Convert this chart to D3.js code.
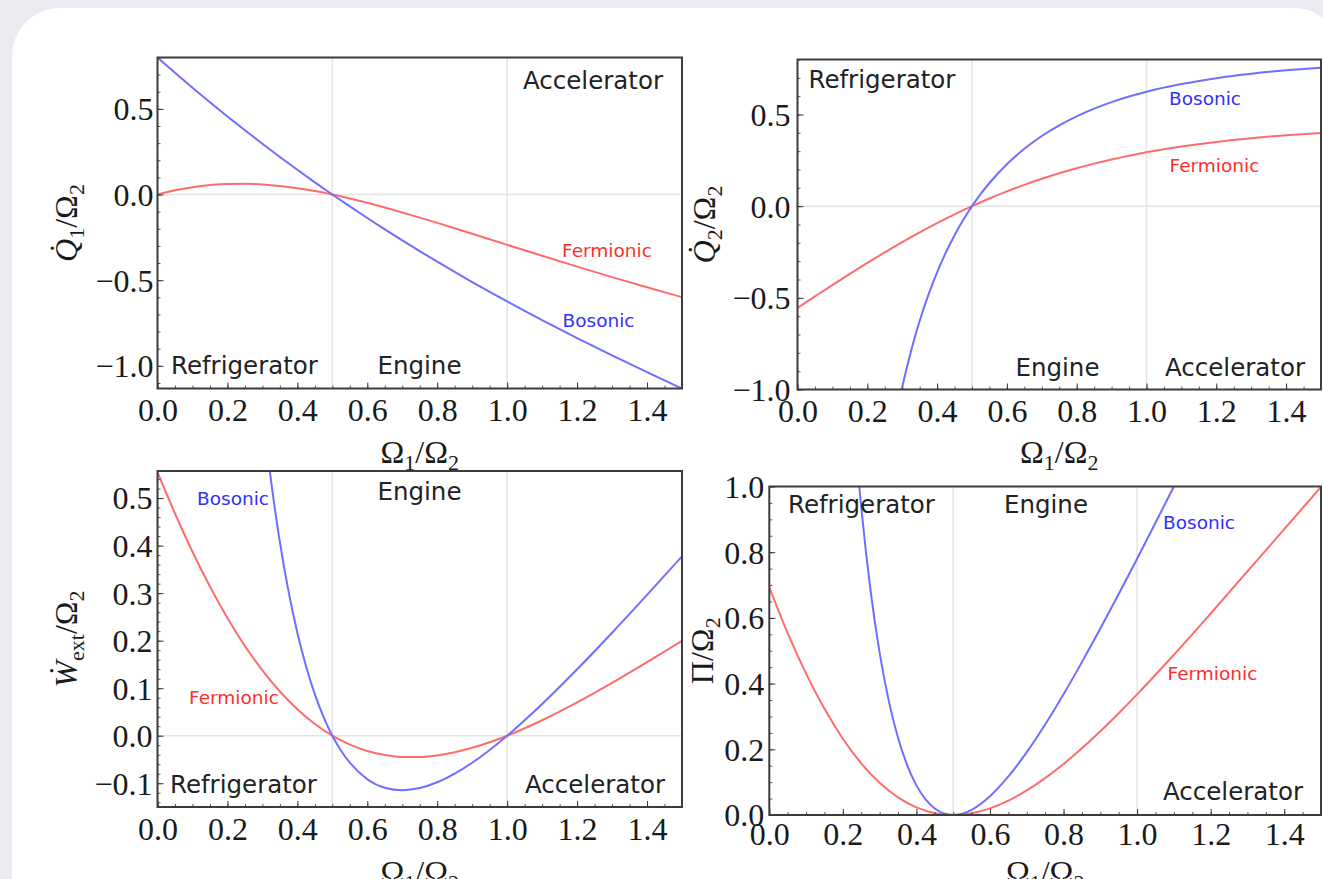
<!DOCTYPE html>
<html>
<head>
<meta charset="utf-8">
<script src="https://cdn.jsdelivr.net/npm/d3@7"></script>
<style>
  body { margin: 0; background: #e9ebf0; }
  svg { display: block; }
</style>
</head>
<body>
<svg id="chart" width="1323" height="879"></svg>
<script>
// Ω1/Ω2 grid used by the fermionic curves (and bosonic Q1)
const ratio = [0, 0.05, 0.1, 0.15, 0.2, 0.25, 0.3, 0.35, 0.4, 0.45, 0.5, 0.55, 0.6, 0.65, 0.7, 0.75,
  0.8, 0.85, 0.9, 0.95, 1.0, 1.1, 1.2, 1.3, 1.4, 1.5];

const q1Fermionic = [0, 0.0246, 0.0430, 0.0554, 0.0619, 0.0630, 0.0589, 0.0501, 0.0370, 0.0201, 0,
  -0.0230, -0.0483, -0.0756, -0.1045, -0.1346, -0.1656, -0.1972, -0.2292, -0.2614, -0.2937,
  -0.3577, -0.4207, -0.4820, -0.5415, -0.5992];
const q1Bosonic = [0.8, 0.7109, 0.6238, 0.5389, 0.4560, 0.3751, 0.2962, 0.2193, 0.1443, 0.0712, 0,
  -0.0695, -0.1372, -0.2033, -0.2677, -0.3307, -0.3921, -0.4521, -0.5107, -0.5681, -0.6243,
  -0.7332, -0.8380, -0.9392, -1.0372, -1.1324];

const q2Fermionic = [-0.5546, -0.4922, -0.4302, -0.3693, -0.3097, -0.2519, -0.1962, -0.1430, -0.0925,
  -0.0448, 0, 0.0418, 0.0805, 0.1164, 0.1493, 0.1795, 0.2070, 0.2320, 0.2547, 0.2752, 0.2937,
  0.3252, 0.3505, 0.3707, 0.3868, 0.3994];
const q2BosonicRatio = [0.275, 0.3, 0.325, 0.35, 0.375, 0.4, 0.425, 0.45, 0.475, 0.5, 0.525, 0.55,
  0.6, 0.65, 0.7, 0.75, 0.8, 0.85, 0.9, 0.95, 1.0, 1.1, 1.2, 1.3, 1.4, 1.5];
const q2Bosonic = [-1.2196, -0.9874, -0.7924, -0.6266, -0.4842, -0.3608, -0.2530, -0.1583, -0.0745, 0,
  0.0666, 0.1263, 0.2287, 0.3127, 0.3825, 0.4409, 0.4901, 0.5319, 0.5675, 0.5980, 0.6243,
  0.6665, 0.6983, 0.7224, 0.7408, 0.7550];

const wFermionic = [0.5546, 0.4676, 0.3872, 0.3139, 0.2477, 0.1889, 0.1374, 0.0930, 0.0555, 0.0246, 0,
  -0.0188, -0.0322, -0.0407, -0.0448, -0.0449, -0.0414, -0.0348, -0.0255, -0.0138, 0,
  0.0325, 0.0701, 0.1112, 0.1547, 0.1997];
const wBosonicRatio = [0.3, 0.325, 0.35, 0.375, 0.4, 0.425, 0.45, 0.475, 0.5, 0.525, 0.55, 0.6, 0.65,
  0.7, 0.75, 0.8, 0.85, 0.9, 0.95, 1.0, 1.1, 1.2, 1.3, 1.4, 1.5];
const wBosonic = [0.6912, 0.5349, 0.4073, 0.3026, 0.2165, 0.1455, 0.0871, 0.0391, 0, -0.0316, -0.0568,
  -0.0915, -0.1095, -0.1147, -0.1102, -0.0980, -0.0798, -0.0568, -0.0299, 0,
  0.0667, 0.1397, 0.2167, 0.2963, 0.3775];

const piFermionic = [0.6933, 0.5537, 0.4302, 0.3231, 0.2323, 0.1574, 0.0981, 0.0536, 0.0231, 0.0056, 0,
  0.0052, 0.0201, 0.0436, 0.0747, 0.1122, 0.1553, 0.2030, 0.2547, 0.3096, 0.3671,
  0.4878, 0.6135, 0.7415, 0.8703, 0.9986];
const piBosonicRatio = [0.2, 0.225, 0.25, 0.275, 0.3, 0.325, 0.35, 0.375, 0.4, 0.425, 0.45, 0.475, 0.5,
  0.525, 0.55, 0.6, 0.65, 0.7, 0.75, 0.8, 0.85, 0.9, 0.95, 1.0, 1.05, 1.1, 1.15];
const piBosonic = [1.7099, 1.2689, 0.9377, 0.6860, 0.4937, 0.3467, 0.2350, 0.1513, 0.0902, 0.0475,
  0.0198, 0.0047, 0, 0.0042, 0.0158, 0.0572, 0.1173, 0.1912, 0.2755, 0.3676, 0.4654, 0.5675,
  0.6728, 0.7803, 0.8895, 0.9998, 1.1108];

// ticks and regime boundaries
const xTicks = [0, 0.2, 0.4, 0.6, 0.8, 1.0, 1.2, 1.4];
const q1Ticks = [-1, -0.5, 0, 0.5];
const q2Ticks = [-1, -0.5, 0, 0.5];
const wTicks = [-0.1, 0, 0.1, 0.2, 0.3, 0.4, 0.5];
const piTicks = [0, 0.2, 0.4, 0.6, 0.8, 1.0];
const regimeBounds = [0.5, 1.0];

const blue = '#6f6fff';
const red = '#ff6c6c';
const blueText = '#3030ff';
const redText = '#ff2e2e';
const serif = 'Liberation Serif, Times New Roman, serif';
const sans = 'DejaVu Sans, Verdana, sans-serif';

const svg = d3.select('#chart');

// white card
svg.append('rect')
  .attr('x', 12).attr('y', 8)
  .attr('width', 1330).attr('height', 920)
  .attr('rx', 48)
  .attr('fill', '#ffffff');

const omegaLabel = [{ t: 'Ω' }, { t: '1', sub: true }, { t: '/Ω' }, { t: '2', sub: true }];

const panels = [
  {
    box: [157.5, 57.5, 682, 388.5], yDomain: [-1.1324, 0.8], yTicks: q1Ticks, yMinor: 0.1,
    yPad: 4, xPad: 10, ylabelX: 77, xlabelY: 463,
    ylabel: [{ t: 'Q\u0307', it: true }, { t: '1', sub: true }, { t: '/Ω' }, { t: '2', sub: true }],
    series: [[ratio, q1Fermionic, red], [ratio, q1Bosonic, blue]],
    notes: [
      ['Accelerator', 523, 89], ['Refrigerator', 171, 374], ['Engine', 377.5, 374],
      ['Fermionic', 562, 257, redText], ['Bosonic', 562.5, 327, blueText],
    ],
  },
  {
    box: [797.5, 59.5, 1321, 389.5], yDomain: [-1, 0.8], yTicks: q2Ticks, yMinor: 0.1,
    yPad: 7, xPad: 10, ylabelX: 715, xlabelY: 463,
    ylabel: [{ t: 'Q\u0307', it: true }, { t: '2', sub: true }, { t: '/Ω' }, { t: '2', sub: true }],
    series: [[ratio, q2Fermionic, red], [q2BosonicRatio, q2Bosonic, blue]],
    notes: [
      ['Refrigerator', 808.5, 88], ['Engine', 1015.5, 376], ['Accelerator', 1165, 376],
      ['Bosonic', 1169, 105, blueText], ['Fermionic', 1169.5, 172, redText],
    ],
  },
  {
    box: [157.5, 471, 682, 807], yDomain: [-0.15, 0.557], yTicks: wTicks, yMinor: 0.02,
    yPad: 5, xPad: 10, ylabelX: 77, xlabelY: 883,
    ylabel: [{ t: 'Ẇ', it: true }, { t: 'ext', sub: true }, { t: '/Ω' }, { t: '2', sub: true }],
    series: [[ratio, wFermionic, red], [wBosonicRatio, wBosonic, blue]],
    notes: [
      ['Engine', 377.5, 500], ['Refrigerator', 170, 793], ['Accelerator', 525, 793],
      ['Bosonic', 197, 505, blueText], ['Fermionic', 189, 704, redText],
    ],
  },
  {
    box: [769.3, 486.5, 1321, 815], yDomain: [0, 1], yTicks: piTicks, yMinor: 0.05,
    yPad: 5, xPad: 7, ylabelX: 713, xlabelY: 883,
    ylabel: [{ t: 'Π' }, { t: '/Ω' }, { t: '2', sub: true }],
    series: [[ratio, piFermionic, red], [piBosonicRatio, piBosonic, blue]],
    notes: [
      ['Refrigerator', 788, 513], ['Engine', 1004, 513], ['Accelerator', 1163, 800],
      ['Bosonic', 1163, 529, blueText], ['Fermionic', 1167.5, 680, redText],
    ],
  },
];

// writes math-like text with subscripts as tspans
const mathText = (sel, parts) => {
  let down = false;
  parts.forEach((p) => {
    const ts = sel.append('tspan').text(p.t);
    if (p.it) ts.attr('font-style', 'italic');
    if (p.sub && !down) { ts.attr('dy', 7).attr('font-size', 22); down = true; }
    else if (p.sub) ts.attr('font-size', 22);
    else if (down) { ts.attr('dy', -7); down = false; }
  });
};

const minorRange = (domain, step) => d3.range(Math.ceil(domain[0] / step - 1e-6), Math.floor(domain[1] / step + 1e-6) + 1)
  .map((k) => k * step);

panels.forEach((p, i) => {
  const [x0, y0, x1, y1] = p.box;
  const x = d3.scaleLinear().domain([0, 1.5]).range([x0, x1]);
  const y = d3.scaleLinear().domain(p.yDomain).range([y1, y0]);
  const g = svg.append('g');

  const clipId = `clip${i}`;
  g.append('clipPath').attr('id', clipId)
    .append('rect').attr('x', x0).attr('y', y0).attr('width', x1 - x0).attr('height', y1 - y0);

  // regime boundaries and zero line
  g.selectAll('.vgrid').data(regimeBounds).join('line')
    .attr('x1', (d) => x(d)).attr('x2', (d) => x(d))
    .attr('y1', y0).attr('y2', y1)
    .attr('stroke', '#e4e4e4').attr('stroke-width', 1.5);
  g.append('line')
    .attr('x1', x0).attr('x2', x1).attr('y1', y(0)).attr('y2', y(0))
    .attr('stroke', '#e4e4e4').attr('stroke-width', 1.5);

  const line = d3.line().x((d) => x(d[0])).y((d) => y(d[1])).curve(d3.curveMonotoneX);
  g.append('g').attr('clip-path', `url(#${clipId})`)
    .selectAll('path').data(p.series).join('path')
    .attr('d', (s) => line(d3.zip(s[0], s[1])))
    .attr('fill', 'none')
    .attr('stroke', (s) => s[2])
    .attr('stroke-width', 2);

  // minor ticks
  g.append('g').attr('transform', `translate(${x0},0)`)
    .call(d3.axisLeft(y).tickValues(minorRange(p.yDomain, p.yMinor)).tickSizeInner(-3).tickSizeOuter(0).tickFormat(''))
    .call((a) => a.select('.domain').remove())
    .selectAll('line').attr('stroke', '#555');
  g.append('g').attr('transform', `translate(0,${y1})`)
    .call(d3.axisBottom(x).tickValues(minorRange([0, 1.5], 0.05)).tickSizeInner(-3).tickSizeOuter(0).tickFormat(''))
    .call((a) => a.select('.domain').remove())
    .selectAll('line').attr('stroke', '#555');

  // major ticks and labels
  const yAxis = g.append('g').attr('transform', `translate(${x0},0)`)
    .call(d3.axisLeft(y).tickValues(p.yTicks).tickFormat(d3.format('.1f'))
      .tickSizeInner(-6).tickSizeOuter(0).tickPadding(p.yPad));
  const xAxis = g.append('g').attr('transform', `translate(0,${y1})`)
    .call(d3.axisBottom(x).tickValues(xTicks).tickFormat(d3.format('.1f'))
      .tickSizeInner(-6).tickSizeOuter(0).tickPadding(p.xPad));
  [yAxis, xAxis].forEach((a) => {
    a.select('.domain').remove();
    a.selectAll('line').attr('stroke', '#333');
    a.selectAll('text').attr('font-family', serif).attr('font-size', 32).attr('fill', '#1a1a1a');
  });
  yAxis.selectAll('text').attr('dy', '0.34em');

  // frame
  g.append('rect')
    .attr('x', x0).attr('y', y0).attr('width', x1 - x0).attr('height', y1 - y0)
    .attr('fill', 'none').attr('stroke', '#3c3c3c').attr('stroke-width', 2);

  // axis titles
  g.append('text')
    .attr('transform', `translate(${p.ylabelX},${(y0 + y1) / 2}) rotate(-90)`)
    .attr('text-anchor', 'middle')
    .attr('font-family', serif).attr('font-size', 32).attr('fill', '#1a1a1a')
    .call(mathText, p.ylabel);
  g.append('text')
    .attr('x', (x0 + x1) / 2).attr('y', p.xlabelY)
    .attr('text-anchor', 'middle')
    .attr('font-family', serif).attr('font-size', 32).attr('fill', '#1a1a1a')
    .call(mathText, omegaLabel);

  // regime and curve labels
  g.selectAll('.note').data(p.notes).join('text')
    .attr('x', (d) => d[1]).attr('y', (d) => d[2])
    .attr('font-family', sans)
    .attr('font-size', (d) => (d[3] ? 18.5 : 24.5))
    .attr('fill', (d) => d[3] || '#222')
    .text((d) => d[0]);
});
</script>
</body>
</html>
